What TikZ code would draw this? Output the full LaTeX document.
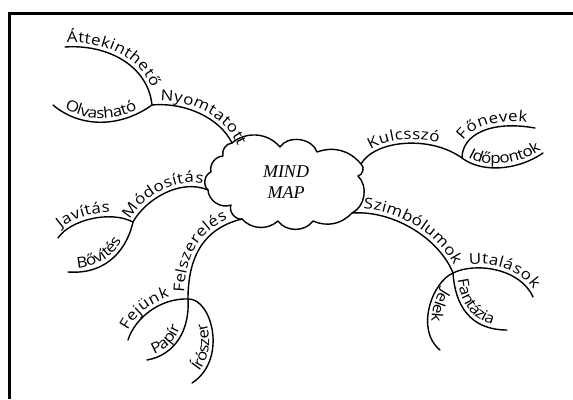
\documentclass[tikz,border=0pt]{standalone}
\usepackage{fontspec}
\usetikzlibrary{decorations.text}
\newfontfamily\lblfamily[FakeStretch=1.13]{Open Sans}
\newfontfamily\corefamily{Liberation Serif}
\newcommand\lblfont{\lblfamily\fontsize{15}{18}\selectfont}

\tikzset{
  branch/.style={line width=1.4pt, line cap=round},
  frameline/.style={line width=3pt},
  cloudline/.style={line width=1.4pt, line join=round},
  labelled/.style 2 args={decorate, decoration={text along path,
      text={|\lblfont|#1}, raise=4pt, text align={left indent=#2}}},
  centre/.style={font=\corefamily\itshape\fontsize{18}{21}\selectfont, align=center}
}

\begin{document}
\begin{tikzpicture}[x=1pt, y=-1pt]
\useasboundingbox (0,0) rectangle (573,399);

% frame
\draw[frameline] (9.5,399) -- (9.5,13) -- (573,13);

% cloud cusps
\coordinate (cA) at (232,143);
\coordinate (cB) at (280,147);
\coordinate (cC) at (317,152);
\coordinate (cD) at (361,164);
\coordinate (cE) at (358,176);
\coordinate (cF) at (352,213);
\coordinate (cG) at (313,221);
\coordinate (cH) at (278,221);
\coordinate (cI) at (242,219);
\coordinate (cJ) at (231,205);
\coordinate (cK) at (208,190);
\coordinate (cL) at (211,172);
\coordinate (cM) at (223,156);

\draw[cloudline] (cA) to[bend left=45] (cB) to[bend left=65] (cC)
  to[bend left=35] (cD) to[bend left=70] (cE) to[bend left=55] (cF)
  to[bend left=35] (cG) to[bend left=55] (cH) to[bend left=45] (cI)
  to[bend left=60] (cJ) to[bend left=55] (cK) to[bend left=60] (cL)
  to[bend left=50] (cM) to[bend left=50] (cA);

\node[centre] (core) at (286,182) {MIND\\MAP};

% junctions and free ends
\coordinate (n0) at (152,105);
\coordinate (t1) at (65,47);
\coordinate (o1) at (53,105);
\coordinate (k0) at (462,158);
\coordinate (f1) at (535,128);
\coordinate (i1) at (543,153);
\coordinate (s0) at (453,273);
\coordinate (u1) at (533,297);
\coordinate (j1) at (440,350);
\coordinate (fa1) at (507,330);
\coordinate (fe0) at (188,299);
\coordinate (fj1) at (128,340);
\coordinate (pa1) at (147,360);
\coordinate (ir1) at (192,383);
\coordinate (m0) at (133,222);
\coordinate (ja1) at (58,238);
\coordinate (bo1) at (68,272);

% upper left
\draw[branch] (t1) .. controls (108,44) and (148,66) .. (n0);
\path[labelled={Áttekinthető}{2pt}] (t1) .. controls (108,44) and (148,66) .. (n0) -- ++(2,20);
\draw[branch] (o1) .. controls (80,128) and (120,128) .. (n0);
\path[labelled={Olvasható}{12pt}] (o1) .. controls (80,128) and (120,128) .. (n0) -- ++(16,-12);
\draw[branch] (n0) .. controls (185,102) and (220,118) .. (cA);
\path[labelled={Nyomtatott}{8pt}] (n0) .. controls (185,102) and (220,118) .. (cA) -- ++(9,18);

% right
\draw[branch] (cD) .. controls (375,140) and (430,135) .. (k0);
\path[labelled={Kulcsszó}{16pt}] (cD) .. controls (375,140) and (430,135) .. (k0) -- ++(16,12);
\draw[branch] (k0) .. controls (462,135) and (490,120) .. (f1);
\path[labelled={Főnevek}{15pt}] (k0) .. controls (462,135) and (490,120) .. (f1) -- ++(20,4);
\draw[branch] (k0) .. controls (480,172) and (515,172) .. (i1);
\path[labelled={Időpontok}{5pt}] (k0) .. controls (480,172) and (515,172) .. (i1) -- ++(17,-11);

% lower right
\draw[branch] (cF) .. controls (395,210) and (440,240) .. (s0);
\path[labelled={Szimbólumok}{11pt}] (cF) .. controls (395,210) and (440,240) .. (s0) -- ++(7,19);
\draw[branch] (s0) .. controls (475,262) and (520,268) .. (u1);
\path[labelled={Utalások}{17pt}] (s0) .. controls (475,262) and (520,268) .. (u1) -- ++(8,18);
\draw[branch] (s0) .. controls (432,282) and (415,330) .. (j1);
\path[labelled={Jelek}{20pt}] (s0) .. controls (432,282) and (415,330) .. (j1) -- ++(16,13);
\draw[branch] (s0) .. controls (455,305) and (470,330) .. (fa1);
\path[labelled={Fantázia}{7pt}] (s0) .. controls (455,305) and (470,330) .. (fa1) -- ++(20,0);

% lower left
\draw[branch] (fe0) .. controls (188,255) and (205,228) .. (cI);
\path[labelled={Felszerelés}{6pt}] (fe0) .. controls (188,255) and (205,228) .. (cI) -- ++(19,-5);
\draw[branch] (fj1) .. controls (135,318) and (160,298) .. (fe0);
\path[labelled={Fejünk}{8pt}] (fj1) .. controls (135,318) and (160,298) .. (fe0) -- ++(20,1);
\draw[branch] (pa1) .. controls (175,355) and (190,330) .. (fe0);
\path[labelled={Papír}{9pt}] (pa1) .. controls (175,355) and (190,330) .. (fe0) -- ++(-1,-20);
\draw[branch] (ir1) .. controls (228,360) and (212,298) .. (fe0);
\path[labelled={Írószer}{14pt}] (ir1) .. controls (228,360) and (212,298) .. (fe0) -- ++(-20,1);

% left
\draw[branch] (m0) .. controls (145,200) and (180,178) .. (cK);
\path[labelled={Módosítás}{0pt}] (m0) .. controls (145,200) and (180,178) .. (cK) -- ++(18,8);
\draw[branch] (ja1) .. controls (70,220) and (110,210) .. (m0);
\path[labelled={Javítás}{8pt}] (ja1) .. controls (70,220) and (110,210) .. (m0) -- ++(18,9);
\draw[branch] (bo1) .. controls (110,275) and (128,245) .. (m0);
\path[labelled={Bővítés}{10pt}] (bo1) .. controls (110,275) and (128,245) .. (m0) -- ++(4,-20);
\end{tikzpicture}
\end{document}
